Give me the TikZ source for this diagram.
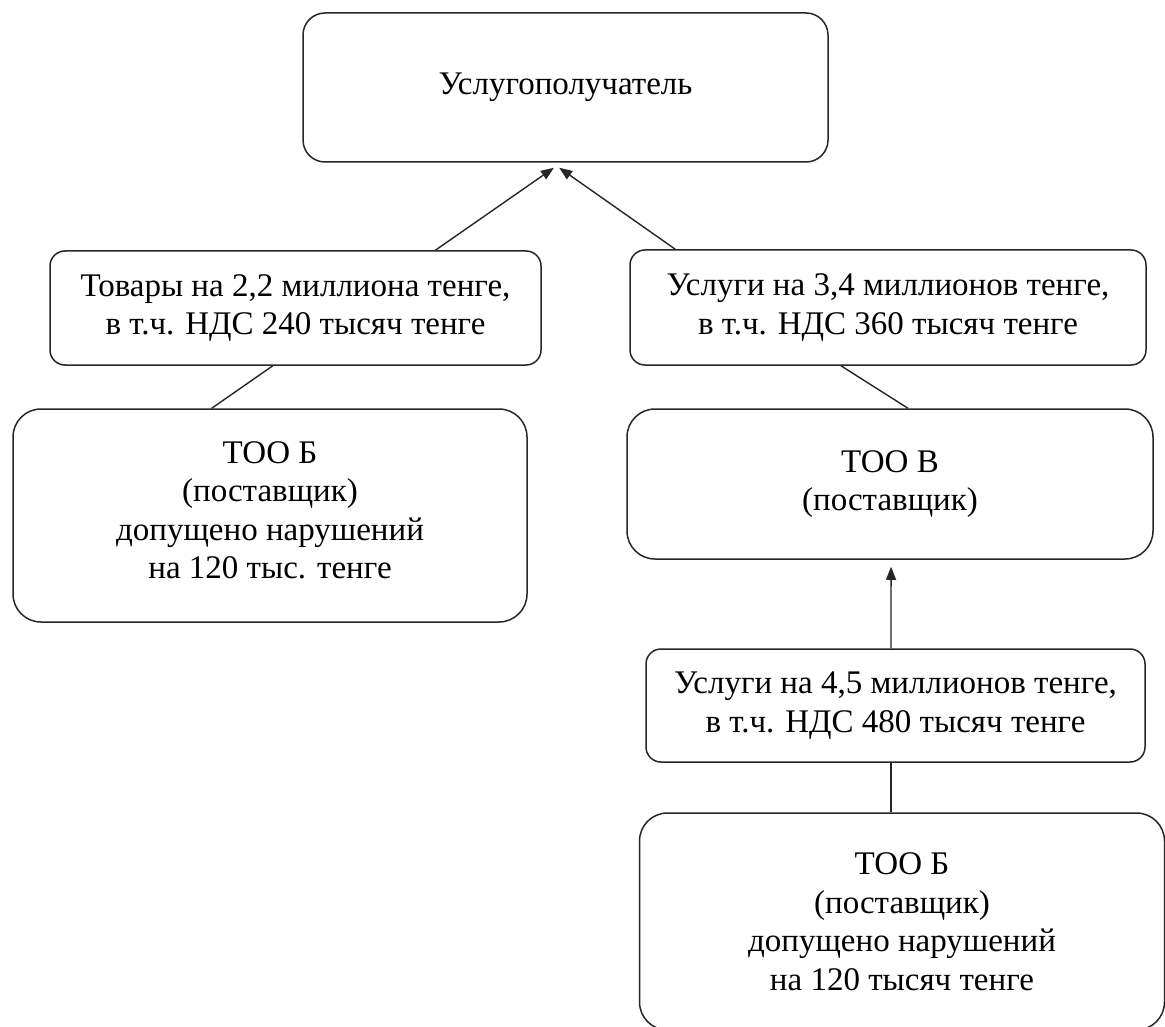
\documentclass[tikz,border=0pt]{standalone}
\usepackage{fontspec}
\setmainfont{Liberation Serif}
\usetikzlibrary{arrows.meta,calc}
\begin{document}
\begin{tikzpicture}[x=1pt,y=-1pt,
  box/.style={draw=black!85, line width=1.5pt, rectangle, align=center, inner sep=0pt,
    font=\fontsize{33}{38.5}\selectfont},
  smallbox/.style={box, rounded corners=15pt},
  bigbox/.style={box, rounded corners=28pt},
  conn/.style={draw=black!85, line width=1.4pt},
  arr/.style={conn, -{Triangle[length=13pt,width=10pt]}}]
\useasboundingbox (0,0) rectangle (1165,1027);
\clip (0,0) rectangle (1165,1027);
\node[box, rounded corners=22pt, minimum width=525pt, minimum height=149pt] (top) at (565.5,87.5) {Услугополучатель};
\node[smallbox, minimum width=491pt, minimum height=114pt] (lbl) at (295.5,308) {Товары на 2,2 миллиона тенге,\\в т.ч. НДС 240 тысяч тенге};
\node[smallbox, minimum width=516pt, minimum height=115pt] (rlbl) at (888,307.5) {Услуги на 3,4 миллионов тенге,\\в т.ч. НДС 360 тысяч тенге};
\node[bigbox, minimum width=514pt, minimum height=213pt] (lb) at (270,515.5) {ТОО Б\\(поставщик)\\допущено нарушений\\на 120 тыс. тенге\\[-28pt]};
\node[bigbox, minimum width=526pt, minimum height=150pt] (vb) at (890,484) {ТОО В\\(поставщик)};
\node[smallbox, minimum width=499pt, minimum height=113pt] (mlbl) at (895.5,705.5) {Услуги на 4,5 миллионов тенге,\\в т.ч. НДС 480 тысяч тенге};
\node[bigbox, minimum width=525pt, minimum height=217pt] (bb) at (902,921.5) {ТОО Б\\(поставщик)\\допущено нарушений\\на 120 тысяч тенге};
% connector end points
\coordinate (tipL) at ($(top.south west)!0.478!(top.south east)+(0,5)$);
\coordinate (tipR) at ($(top.south west)!0.488!(top.south east)+(0,5)$);
\draw[arr] ($(lbl.north west)!0.784!(lbl.north east)$) -- (tipL);
\draw[arr] ($(rlbl.north west)!0.089!(rlbl.north east)$) -- (tipR);
\draw[conn] ($(lbl.south west)!0.454!(lbl.south east)$) -- ($(lb.north west)!0.387!(lb.north east)$);
\draw[conn] ($(rlbl.south west)!0.409!(rlbl.south east)$) -- ($(vb.north west)!0.534!(vb.north east)$);
\coordinate (tipV) at ($(vb.south west)!0.502!(vb.south east)+(0,7)$);
\draw[arr] ($(mlbl.north west)!0.491!(mlbl.north east)$) -- (tipV);
\coordinate (mbot) at ($(mlbl.south west)!0.491!(mlbl.south east)$);
\draw[conn] (mbot) -- (mbot |- bb.north);
\end{tikzpicture}
\end{document}
